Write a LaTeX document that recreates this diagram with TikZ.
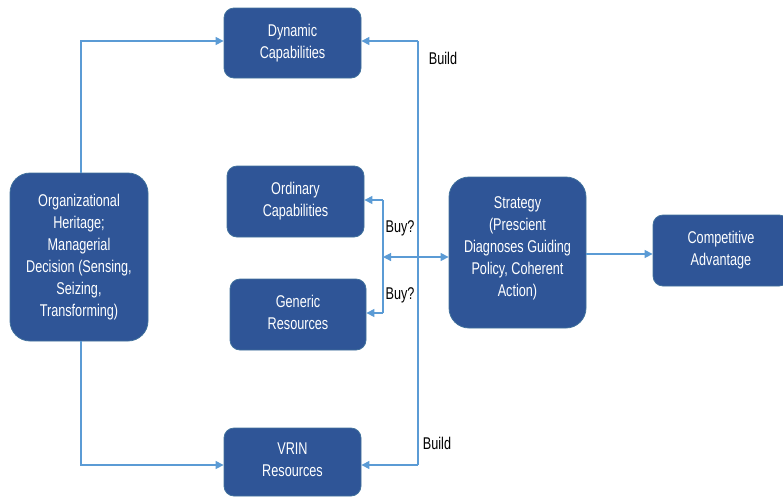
\documentclass[tikz,border=0pt]{standalone}
\usepackage{fontspec}
\setmainfont[FakeStretch=0.745]{Liberation Sans}
\usetikzlibrary{arrows.meta,calc}
\definecolor{boxblue}{HTML}{2F5597}
\definecolor{boxedge}{HTML}{41719C}
\definecolor{arrblue}{HTML}{5B9BD5}
\tikzset{
  blk/.style={fill=boxblue, draw=boxedge, line width=0.8pt, rounded corners=10pt,
    text=white, align=center, font=\fontsize{17}{22}\selectfont, inner sep=0pt},
  arr/.style={draw=arrblue, line width=1.2pt, -{Triangle[length=8pt,width=8pt]}},
  dbl/.style={draw=arrblue, line width=1.2pt, {Triangle[length=8pt,width=8pt]}-{Triangle[length=8pt,width=8pt]}},
  ln/.style={draw=arrblue, line width=1.2pt},
  lbl/.style={text=black, font=\fontsize{17}{22}\selectfont, inner sep=0pt}
}
\begin{document}
\begin{tikzpicture}[x=1pt,y=-1pt]
\useasboundingbox (0,0) rectangle (783,496);
\clip (0,0) rectangle (783,496);
\node[blk, minimum width=137pt, minimum height=70pt] (dyn) at (292.5,43) {Dynamic\\Capabilities\\[-18pt]\mbox{}};
\node[blk, minimum width=137pt, minimum height=71pt] (ord) at (295.5,201.5) {Ordinary\\Capabilities\\[-18pt]\mbox{}};
\node[blk, minimum width=136pt, minimum height=71pt] (gen) at (298,314.5) {Generic\\Resources\\[-18pt]\mbox{}};
\node[blk, minimum width=137pt, minimum height=68pt] (vrin) at (292.5,462) {VRIN\\Resources\\[-18pt]\mbox{}};
\node[blk, rounded corners=20pt, minimum width=138pt, minimum height=168pt] (org) at (79,257) {Organizational\\Heritage;\\Managerial\\Decision (Sensing,\\Seizing,\\Transforming)};
\node[blk, rounded corners=20pt, minimum width=137pt, minimum height=151pt] (str) at (517.5,252.5) {Strategy\\(Prescient\\Diagnoses Guiding\\Policy, Coherent\\Action)\\[-10pt]\mbox{}};
\node[blk, minimum width=136pt, minimum height=71pt] (comp) at (721,250.5) {Competitive\\Advantage\\[-18pt]\mbox{}};

\coordinate (ltop) at (81,41);
\coordinate (lbot) at (81,465);
\coordinate (rtop) at (418,41);
\coordinate (rbot) at (418,465);
\coordinate (bt) at (383,200);
\coordinate (bb) at (383,313);
\coordinate (bm) at (383,257);

\draw[arr] (org.north -| ltop) -- (ltop) -- (ltop -| dyn.west);
\draw[arr] (org.south -| lbot) -- (lbot) -- (lbot -| vrin.west);
\draw[ln] (rtop) -- (rbot);
\draw[arr] (rtop) -- (rtop -| dyn.east);
\draw[arr] (rbot) -- (rbot -| vrin.east);
\draw[ln] (bt) -- (bb);
\draw[arr] (bt) -- (bt -| ord.east);
\draw[arr] (bb) -- (bb -| gen.east);
\draw[dbl] (bm) -- (bm -| str.west);
\draw[arr] (str.east |- 0,254) -- (comp.west |- 0,254);

\node[lbl] (b1) at (443,58) {Build};
\node[lbl] (b2) at (437,443) {Build};
\node[lbl] (u1) at (400,228) {Buy?};
\node[lbl] (u2) at (400,295) {Buy?};
\end{tikzpicture}
\end{document}
